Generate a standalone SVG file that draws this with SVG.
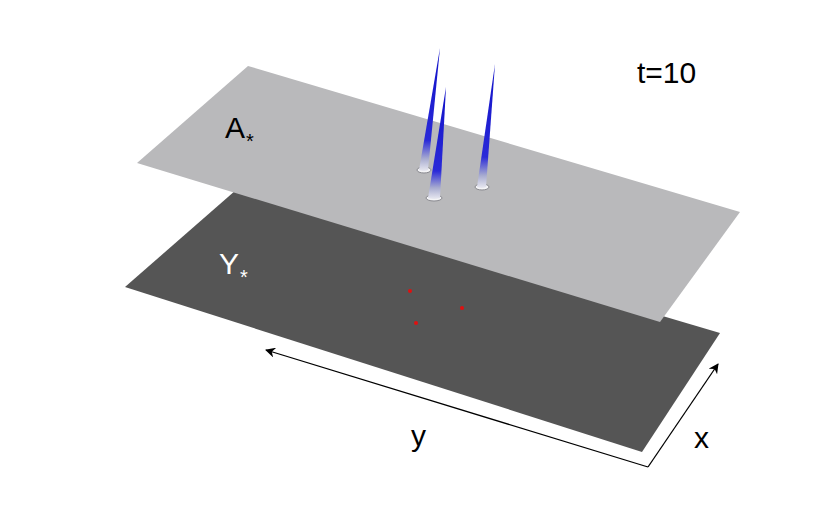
<svg xmlns="http://www.w3.org/2000/svg" width="830" height="526" viewBox="0 0 830 526">
<defs>
<linearGradient id="sp" x1="0" y1="0" x2="0" y2="1"><stop offset="0" stop-color="#1010c8"/><stop offset="0.75" stop-color="#2a2ad8"/><stop offset="0.9" stop-color="#a8acd0"/><stop offset="1" stop-color="#e8e8f0"/></linearGradient>
<marker id="ah" markerWidth="10" markerHeight="10" refX="9" refY="5" orient="auto" markerUnits="userSpaceOnUse"><path d="M0,0 L10,5 L0,10 L3,5 Z" fill="#000"/></marker>
<style>.t{font-family:"Liberation Sans",Arial,sans-serif;font-size:30px}</style>
</defs>
<rect width="830" height="526" fill="#fff"/>
<polygon points="236,190 720,333 642,452 125,287" fill="#555555"/>
<g fill="#e01010"><circle cx="410" cy="291" r="2"/><circle cx="462" cy="308" r="2"/><circle cx="416" cy="323" r="2"/></g>
<polygon points="248,66 740,212 660,322 137,163" fill="#b9b9bb"/>
<g fill="#f4f4f6" stroke="#8a8a90" stroke-width="1">
<ellipse cx="424" cy="170" rx="7" ry="3"/><ellipse cx="434" cy="198" rx="8" ry="3"/><ellipse cx="482" cy="187" rx="7" ry="3"/></g>
<g fill="url(#sp)">
<path d="M440,48 L428,170 Q424,172 419,170 Z"/>
<path d="M446,87 L440,198 Q434,200 428,198 Z"/>
<path d="M495,64 L486,187 Q482,189 477,187 Z"/>
</g>
<g stroke="#000" stroke-width="1.3" fill="none">
<line x1="648" y1="467" x2="266" y2="350" marker-end="url(#ah)"/>
<line x1="648" y1="467" x2="718" y2="364" marker-end="url(#ah)"/>
</g>
<text class="t" x="637" y="83">t=10</text>
<text class="t" x="225" y="138">A</text><text x="246" y="148" font-family="Liberation Sans,sans-serif" font-size="20">*</text>
<text class="t" x="219" y="274" fill="#fff">Y</text><text x="240" y="284" font-family="Liberation Sans,sans-serif" font-size="20" fill="#fff">*</text>
<text class="t" x="411" y="446">y</text>
<text class="t" x="694" y="448">x</text>
</svg>
